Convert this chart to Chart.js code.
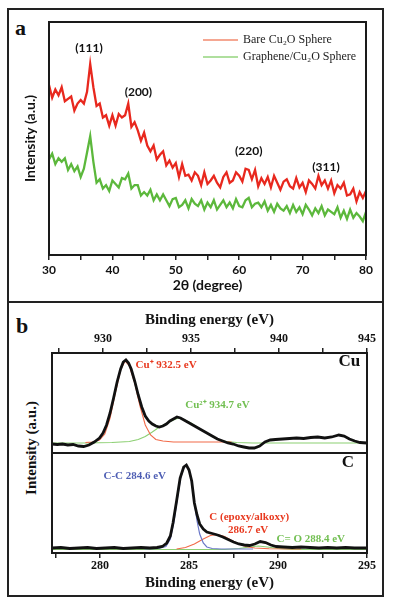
<!DOCTYPE html>
<html>
<head>
<meta charset="utf-8">
<script src="https://cdn.jsdelivr.net/npm/chart.js@4.4.1/dist/chart.umd.min.js"></script>
<style>
  html,body{margin:0;padding:0;background:#fff}
  body{position:relative;width:393px;height:605px;overflow:hidden}
  canvas{position:absolute}
  .frame{position:absolute;left:7px;top:8px;width:377px;height:589px;border:2px solid #222;box-sizing:border-box}
  .divider{position:absolute;left:7px;top:301px;width:377px;height:2px;background:#222}
  .tag{position:absolute;font:bold 22px "Liberation Serif",serif;line-height:22px;color:#111}
  .ytitle{position:absolute;white-space:nowrap;transform:translate(-50%,-50%) rotate(-90deg);font:bold 15px "Liberation Serif",serif;color:#111}
</style>
</head>
<body>
<div class="frame"></div>
<div class="divider"></div>
<div class="tag" style="left:15px;top:17px">a</div>
<div class="tag" style="left:16px;top:315px">b</div>
<div class="ytitle" style="left:31px;top:448px">Intensity (a.u.)</div>
<canvas id="xrd" width="376" height="294" style="left:8px;top:8px"></canvas>
<canvas id="cu" width="376" height="156" style="left:8px;top:302px"></canvas>
<canvas id="c1s" width="376" height="148" style="left:8px;top:448px"></canvas>
<script>
const $ = (id) => document.getElementById(id);
const xy = (xs, ys) => xs.map((x, i) => ({ x, y: ys[i] }));

// ---- panel a : XRD patterns ----
const twoTheta = [30,30.5,31,31.5,32,32.5,33,33.5,34,34.5,35,35.5,36,36.5,37,37.5,38,38.5,39,39.5,
  40,40.5,41,41.5,42,42.5,43,43.5,44,44.5,45,45.5,46,46.5,47,47.5,48,48.5,49,49.5,
  50,50.5,51,51.5,52,52.5,53,53.5,54,54.5,55,55.5,56,56.5,57,57.5,58,58.5,59,59.5,
  60,60.5,61,61.5,62,62.5,63,63.5,64,64.5,65,65.5,66,66.5,67,67.5,68,68.5,69,69.5,
  70,70.5,71,71.5,72,72.5,73,73.5,74,74.5,75,75.5,76,76.5,77,77.5,78,78.5,79,79.5,80];
const bareCu2O = [73,67.5,71,68.5,72,66,67,68,62,65, 66.5,65,70,82,72,64,65,59,60,55.5,
  60,55.5,60.5,59,60,65,55,57,53.5,49, 52.5,47,44.5,47,41,43,44.5,38.5,40.5,37.5,
  39.5,33.5,39,34,34.5,32,35.5,34,30,35.5, 30.5,32,34,31,29,33.5,35.5,31,32,35.5,
  34,31.5,37,36.5,32.5,36.5,29.5,33,30.5,33.5, 29,34,31,28,31.5,32.5,29.5,28.5,33,29,
  31,27,32,30.5,28.5,34,30,32,28.5,32, 26.5,30,28.5,31,25.5,26,28.5,23,27,24.5, 27.5];
const grapheneCu2O = [41,43.5,39,41.5,40,41.5,36.5,39,36,38, 33.5,37,44,51,40,31,32.5,28.5,30,27.5,
  32,30.5,29,33,32.5,35,28.5,30,30,25.5, 27,25.5,28,23.5,26,23.5,26,23.5,21,24,
  24.5,20.5,21.5,23.5,20,24,22,21,23.5,19.5, 22.5,20.5,23.5,19.5,21.5,23.5,20.5,22.5,20,24,
  21,20.5,23.5,24.5,20.5,22,22.5,20.5,23,19, 21.5,18.5,22,20,19,21,18,21.5,18.5,20.5,
  17.5,21.5,19.5,17,20,18,21,17,19.5,18.5, 17.5,20.5,16,19,15.5,19.5,16,18,16.5,14.5, 18.5];
const xrdTicks = [30,35,40,45,50,55,60,65,70,75,80];
const peakNames = ['(111)','(200)','(220)','(311)'];

// ---- panel b : Cu 2p ----
const cuEnergy = [927.1,927.4,927.7,928.0,928.3,928.6,928.9,929.2,929.5,929.8,930.0,930.2,930.4,930.6,930.8,
  931.0,931.15,931.3,931.45,931.6,931.8,932.0,932.2,932.4,932.6,932.8,933.0,933.2,933.4,933.6,933.8,
  934.0,934.2,934.4,934.6,934.8,935.0,935.3,935.6,935.9,936.2,936.5,936.8,937.1,937.4,937.7,938.0,
  938.3,938.6,938.9,939.2,939.5,939.8,940.2,940.6,941.0,941.4,941.8,942.2,942.6,943.0,943.4,943.7,
  944.0,944.3,944.6,945.0];
const cuSignal = [9,8.5,9,8,8.5,7,6.5,8,11,15,20,28,40,55,71,
  84,91,93,90,84,72,58,46,37,32,29,27,26,27,29,32,
  34,36,35,33,31,29,26,23,20,17,14,12,10,9,7,6,
  5,5,7,11,13,13.5,14,14.5,15,14.5,15.5,16,15,16,18,17,
  14,12,10.5,10];
const cuPlusEnergy = [929.0,929.4,929.8,930.1,930.4,930.7,931.0,931.25,931.5,931.8,932.1,932.4,932.7,933.0,933.4,934.0,935.0,936.0,937.3];
const cuPlusFit = [10.5,11,13,19,35,60,83,92,87,70,47,28,18,13.5,12,11,11,11,11];
const cu2Energy = [927.1,929.0,930.5,931.5,932.0,932.4,932.8,933.2,933.6,934.0,934.3,934.6,935.0,935.4,935.8,936.2,936.6,937.0,937.6,938.5,945.0];
const cu2Fit = [10,10,10.5,11.5,13.5,16.5,21,26,29.5,33,35,33.5,30,25.5,21,16.5,13,11.5,10.5,10,10];
const cuTicks = [927.5,930,932.5,935,937.5,940,942.5,945];

// ---- panel b : C 1s ----
const cEnergy = [277.3,277.8,278.3,278.8,279.3,279.8,280.3,280.8,281.3,281.8,282.3,282.8,283.2,283.5,283.75,
  283.95,284.1,284.3,284.5,284.7,284.85,285.0,285.15,285.3,285.45,285.6,285.8,286.0,286.3,286.6,286.9,
  287.2,287.5,287.8,288.1,288.4,288.7,289.0,289.3,289.6,289.9,290.3,290.8,291.3,291.8,292.3,292.8,
  293.3,293.8,294.3,295.0];
const cSignal = [5,5.5,4.5,5,5.5,4.5,5,5.5,4.5,5,5.5,5,5.5,6.5,10,
  17,30,52,75,86,88,83,72,50,38,29,24,21,19.5,18,16,
  13.5,11,9,8,7.5,9,11.5,10.5,8,6.5,6,5.5,6,5.5,5,5.5,
  5,5.5,5,5];
const ccEnergy = [282.5,283.3,283.7,283.95,284.15,284.35,284.55,284.75,284.85,285.0,285.15,285.3,285.45,285.6,285.8,286.0,286.3,286.8,288.6];
const ccFit = [4,4.5,6.5,14,31,55,77,87,88,83,71,50,32,19,10,6,4.5,4,4];
const epoxyEnergy = [284.3,284.8,285.3,285.8,286.2,286.6,287.0,287.4,287.8,288.2,288.7,289.5,291.3];
const epoxyFit = [4,5.5,9,14,17.5,18.5,16.5,12.5,9,6.5,5,4.2,4];
const coEnergy = [277.3,287.0,287.8,288.4,288.9,289.4,290.0,290.8,295.0];
const coFit = [3.5,3.5,4.5,6,7,6,4.5,3.5,3.5];
const cTicks = [277.5,280,282.5,285,287.5,290,292.5,295];

const SERIF = '"Liberation Serif", "Times New Roman", serif';
const SANS = 'Lato, "Open Sans", sans-serif';
Chart.defaults.color = '#111';

function boxPlugin(id) {
  return { id, afterDatasetsDraw(chart) {
    const { ctx, chartArea: a } = chart;
    ctx.save();
    ctx.strokeStyle = '#1a1a1a'; ctx.lineWidth = 2;
    ctx.strokeRect(a.left, a.top, a.right - a.left, a.bottom - a.top);
    ctx.restore();
  }};
}
function notesPlugin(id, notes) {
  return { id, afterDatasetsDraw(chart) {
    const { ctx, scales } = chart;
    ctx.save();
    ctx.textAlign = 'center'; ctx.textBaseline = 'middle';
    for (const n of notes) {
      ctx.font = n.font; ctx.fillStyle = n.color;
      ctx.fillText(n.text, scales.x.getPixelForValue(n.x), scales.y.getPixelForValue(n.y));
    }
    ctx.restore();
  }};
}
const xrdLegend = { id: 'xrdLegend', afterDatasetsDraw(chart) {
  const { ctx, chartArea: a } = chart;
  ctx.save();
  ctx.font = '12px ' + SERIF; ctx.textBaseline = 'middle'; ctx.fillStyle = '#222';
  chart.data.datasets.forEach((ds, i) => {
    const y = a.top + 18 + i * 17;
    ctx.strokeStyle = ds.legendColor; ctx.lineWidth = 1.5;
    ctx.beginPath(); ctx.moveTo(a.left + 154, y); ctx.lineTo(a.left + 189, y); ctx.stroke();
    ctx.fillText(ds.label, a.left + 194, y);
  });
  ctx.restore();
}};

const setTicks = (list) => (s) => { s.ticks = list.map(v => ({ value: v })); };
const tickGrid = { drawOnChartArea: false, tickLength: 5, color: '#222', lineWidth: 1.5 };
const hiddenY = (w) => ({ min: 0, max: 100, afterFit: s => { s.width = w; },
  ticks: { display: false }, grid: { display: false }, border: { display: false } });
const base = { responsive: false, animation: false, devicePixelRatio: 1,
  elements: { point: { radius: 0 }, line: { tension: 0 } },
  plugins: { legend: { display: false }, tooltip: { enabled: false } } };

// panel a
new Chart($('xrd'), {
  type: 'line',
  data: { datasets: [
    { label: 'Bare Cu\u2082O Sphere', data: xy(twoTheta, bareCu2O), borderColor: '#e8281e', borderWidth: 2.3, legendColor: '#f28a6e' },
    { label: 'Graphene/Cu\u2082O Sphere', data: xy(twoTheta, grapheneCu2O), borderColor: '#5cb83c', borderWidth: 2.3, legendColor: '#95d47e' }
  ]},
  options: { ...base,
    layout: { padding: { top: 14, right: 18, left: 0, bottom: 0 } },
    scales: {
      x: { type: 'linear', min: 30, max: 80, afterBuildTicks: setTicks(xrdTicks), afterFit: s => { s.height = 47; },
        ticks: { callback: v => v % 10 === 0 ? v : '', font: { family: SANS, weight: 'bold', size: 12 }, maxRotation: 0, autoSkip: false, padding: 3 },
        grid: tickGrid, border: { display: false },
        title: { display: true, text: '2\u03b8 (degree)', font: { family: SANS, weight: 'bold', size: 14 }, padding: { top: 0, bottom: 8 } } },
      y: { ...hiddenY(41),
        title: { display: true, text: 'Intensity (a.u.)', font: { family: SANS, weight: 'bold', size: 14 }, padding: { top: 14, bottom: 0 } } }
    }
  },
  plugins: [boxPlugin('boxA'), xrdLegend, notesPlugin('peaksA', [
    { text: peakNames[0], x: 36.3, y: 89, color: '#111', font: 'bold 12px ' + SANS },
    { text: peakNames[1], x: 44.1, y: 70, color: '#111', font: 'bold 12px ' + SANS },
    { text: peakNames[2], x: 61.5, y: 44.6, color: '#111', font: 'bold 12px ' + SANS },
    { text: peakNames[3], x: 73.7, y: 37.8, color: '#111', font: 'bold 12px ' + SANS }
  ])]
});

// panel b, Cu 2p
new Chart($('cu'), {
  type: 'line',
  data: { datasets: [
    { data: xy(cuEnergy, cuSignal), borderColor: '#111', borderWidth: 2.8 },
    { data: xy(cuPlusEnergy, cuPlusFit), borderColor: '#f26a48', borderWidth: 1.1 },
    { data: xy(cu2Energy, cu2Fit), borderColor: '#8ccf72', borderWidth: 1.1 }
  ]},
  options: { ...base,
    layout: { padding: { top: 0, right: 17, left: 0, bottom: 5 } },
    scales: {
      x: { type: 'linear', position: 'top', min: 927.1, max: 945, afterBuildTicks: setTicks(cuTicks), afterFit: s => { s.height = 51; },
        ticks: { callback: v => v % 5 === 0 ? v : '', font: { family: SERIF, weight: 'bold', size: 12 }, maxRotation: 0, autoSkip: false, padding: 2 },
        grid: tickGrid, border: { display: false },
        title: { display: true, text: 'Binding energy (eV)', font: { family: SERIF, weight: 'bold', size: 15 }, padding: { top: 9, bottom: 0 } } },
      y: hiddenY(44)
    }
  },
  plugins: [boxPlugin('boxCu'), notesPlugin('notesCu', [
    { text: 'Cu\u207a 932.5 eV', x: 933.58, y: 88, color: '#e8391f', font: 'bold 11px ' + SERIF },
    { text: 'Cu\u00b2\u207a 934.7 eV', x: 936.5, y: 48, color: '#72bf52', font: 'bold 11px ' + SERIF },
    { text: 'Cu', x: 944.0, y: 91, color: '#111', font: 'bold 17px ' + SERIF }
  ])]
});

// panel b, C 1s
new Chart($('c1s'), {
  type: 'line',
  data: { datasets: [
    { data: xy(cEnergy, cSignal), borderColor: '#111', borderWidth: 2.8 },
    { data: xy(ccEnergy, ccFit), borderColor: '#6b78c8', borderWidth: 1.2 },
    { data: xy(epoxyEnergy, epoxyFit), borderColor: '#f26a48', borderWidth: 1.1 },
    { data: xy(coEnergy, coFit), borderColor: '#8ccf72', borderWidth: 1.1 }
  ]},
  options: { ...base,
    layout: { padding: { top: 5, right: 17, left: 0, bottom: 0 } },
    scales: {
      x: { type: 'linear', min: 277.3, max: 295, afterBuildTicks: setTicks(cTicks), afterFit: s => { s.height = 43; },
        ticks: { callback: v => v % 5 === 0 ? v : '', font: { family: SERIF, weight: 'bold', size: 12 }, maxRotation: 0, autoSkip: false, padding: 1 },
        grid: tickGrid, border: { display: false },
        title: { display: true, text: 'Binding energy (eV)', font: { family: SERIF, weight: 'bold', size: 15 }, padding: { top: 0, bottom: 4 } } },
      y: hiddenY(44)
    }
  },
  plugins: [boxPlugin('boxC'), notesPlugin('notesC', [
    { text: 'C-C 284.6 eV', x: 281.95, y: 77, color: '#4f5fb4', font: 'bold 11px ' + SERIF },
    { text: 'C (epoxy/alkoxy)', x: 288.38, y: 36, color: '#e8391f', font: 'bold 11px ' + SERIF },
    { text: '286.7 eV', x: 288.32, y: 23, color: '#e8391f', font: 'bold 11px ' + SERIF },
    { text: 'C= O 288.4 eV', x: 291.84, y: 14, color: '#72bf52', font: 'bold 11px ' + SERIF },
    { text: 'C', x: 293.93, y: 90, color: '#111', font: 'bold 17px ' + SERIF }
  ])]
});
</script>
</body>
</html>
